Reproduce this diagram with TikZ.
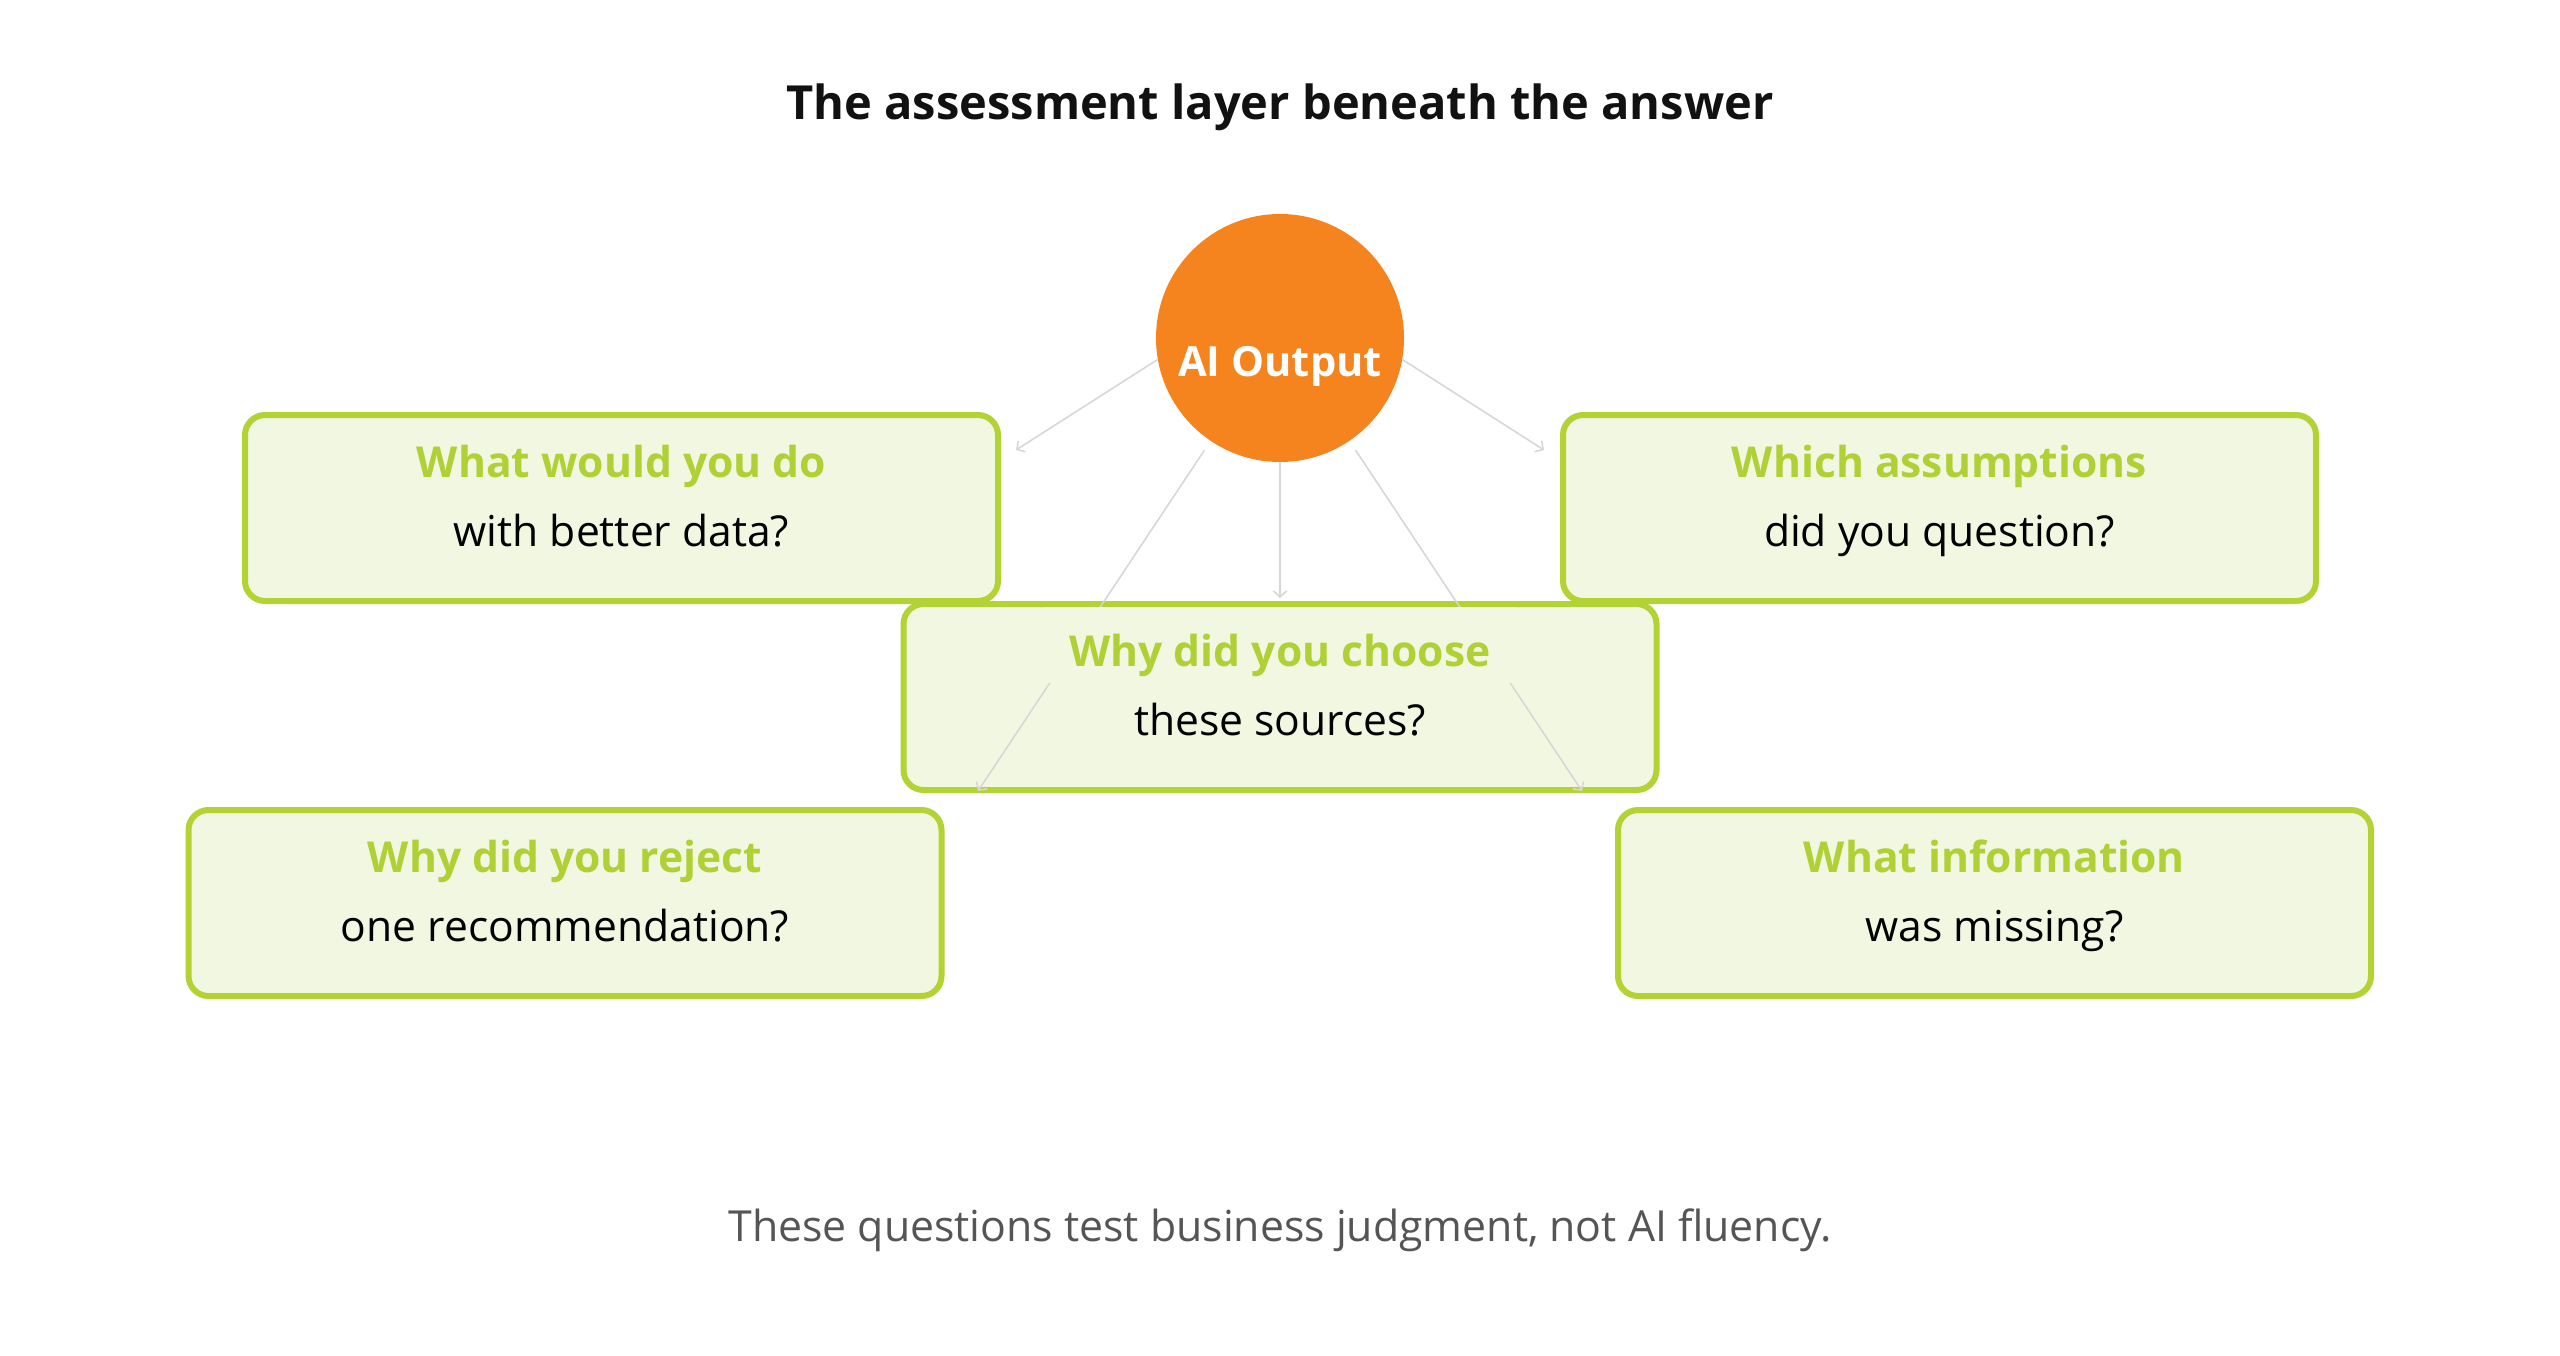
\documentclass[tikz,border=0pt]{standalone}
\usepackage{fontspec}
\setmainfont{Open Sans}
\usetikzlibrary{arrows.meta}
\definecolor{lime}{HTML}{B3D335}
\definecolor{limetext}{HTML}{AFD135}
\definecolor{limefill}{HTML}{F2F7E1}
\definecolor{orng}{HTML}{F5841F}
\definecolor{edgegray}{HTML}{D6D6D6}
\definecolor{capgray}{HTML}{555555}
\definecolor{titleblack}{HTML}{111111}
\begin{document}
\begin{tikzpicture}[x=0.5pt,y=-0.5pt,
  qbox/.style={draw=lime, line width=3pt, fill=limefill, rounded corners=10pt,
    minimum width=376.5pt, minimum height=93pt, inner sep=0pt},
  qtext/.style={align=center, inner sep=0pt, text=black,
    font=\fontsize{21.3}{34.5}\selectfont},
  edge/.style={draw=edgegray, line width=0.75pt,
    -{Straight Barb[length=3pt,width=6.5pt]}},
  aiout/.style={circle, fill=orng, minimum size=124pt, inner sep=0pt},
]
\fill[white] (0,0) rectangle (2560,1355);
\useasboundingbox (0,0) rectangle (2560,1355);

\node[font=\bfseries\fontsize{23.5}{28}\selectfont, text=titleblack] (title) at (1280,107.5)
  {The assessment layer beneath the answer};

% boxes
\node[qbox] (tl) at (621.5,508) {};
\node[qbox] (tr) at (1939.5,508) {};
\node[qbox] (cb) at (1280,697) {};
\node[qbox] (bl) at (565,903) {};
\node[qbox] (br) at (1994.5,903) {};

\node[qtext] (tlt) at ([yshift=5pt]tl.center)
  {\strut{\bfseries\color{limetext}What would you do}\\\strut with better data?};
\node[qtext] (trt) at ([yshift=5pt]tr.center)
  {\strut{\bfseries\color{limetext}Which assumptions}\\\strut did you question?};
\node[qtext] (blt) at ([yshift=5pt]bl.center)
  {\strut{\bfseries\color{limetext}Why did you reject}\\\strut one recommendation?};
\node[qtext] (brt) at ([yshift=5pt]br.center)
  {\strut{\bfseries\color{limetext}What information}\\\strut was missing?};

% AI output circle
\node[aiout] (ai) at (1280,338) {};

% free ends of connectors
\coordinate (e1) at (1016,450);
\coordinate (e2) at (1544,450);
\coordinate (e3) at (1280,598);
\coordinate (e4) at (978,791);
\coordinate (e5) at (1582,791);

\draw[edge] (ai.190) -- (e1);
\draw[edge] (ai.-10) -- (e2);
\draw[edge] (ai.south) -- (e3);
\draw[edge, shorten <=5.5pt] (ai.236.4) -- (e4);
\draw[edge, shorten <=5.5pt] (ai.-56.4) -- (e5);

% label background behind the first line of the centre box
\fill[limefill] (1045,607) rectangle (1515,683);
\node[qtext] (cbt) at ([yshift=5pt]cb.center)
  {\strut{\bfseries\color{limetext}Why did you choose}\\\strut these sources?};

\node[font=\bfseries\fontsize{20.8}{25}\selectfont, text=white] (ait) at (1280,366) {AI Output};

\node[font=\fontsize{21.4}{26}\selectfont, text=capgray] (cap) at (1280,1230)
  {These questions test business judgment, not AI fluency.};
\end{tikzpicture}
\end{document}
